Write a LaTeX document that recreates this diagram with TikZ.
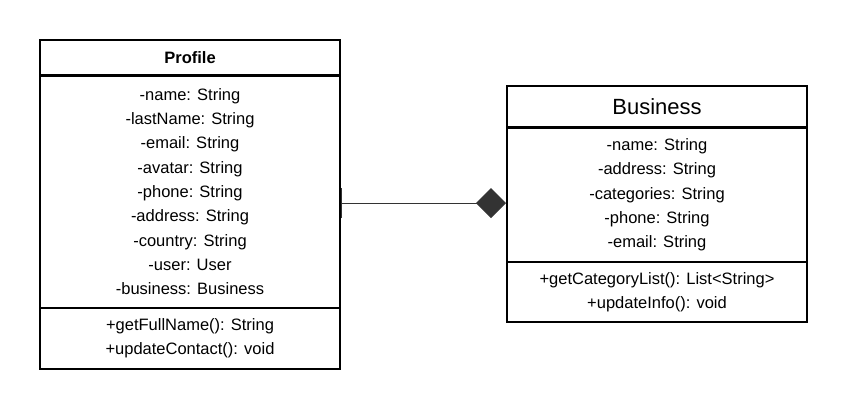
\documentclass[tikz,border=0pt]{standalone}
\usepackage{fontspec}
\setmainfont{Liberation Sans}
\usetikzlibrary{arrows.meta}
\definecolor{lnk}{HTML}{333333}
\newcommand{\attfont}{\fontsize{16.5}{24.3}\selectfont}

\begin{document}
\begin{tikzpicture}[x=1pt, y=-1pt,
    part/.style={draw=black, line width=2pt, minimum width=300pt, inner sep=0pt, align=center, font=\attfont},
    assoc/.style={draw=lnk, line width=1pt, {Bar[width=30pt, line width=1.5pt, sep=0pt]}-{Diamond[length=30pt, width=30pt, fill=lnk, sep=0pt]}}]
    \useasboundingbox (0,0) rectangle (847,408);

    \node[part, minimum height=35pt, font=\fontsize{16.5}{18}\selectfont\bfseries] (ph) at (190, 57.5) {Profile};
    \node[part, minimum height=232pt] (pa) at (190, 191.5) {-name: String\\-lastName: String\\-email: String\\-avatar: String\\-phone: String\\-address: String\\-country: String\\-user: User\\-business: Business};
    \node[part, minimum height=61pt] (pm) at (190, 338) {+getFullName(): String\\+updateContact(): void};

    \node[part, minimum height=41pt, font=\fontsize{22}{24}\selectfont] (bh) at (657, 106.5) {Business};
    \node[part, minimum height=134pt] (ba) at (657, 195) {-name: String\\-address: String\\-categories: String\\-phone: String\\-email: String};
    \node[part, minimum height=60pt] (bm) at (657, 292) {+getCategoryList(): List<String>\\+updateInfo(): void};

    \coordinate (j) at (506, 203);
    \draw[assoc] ([xshift=-0.3pt]pa.east |- j) -- (j);
\end{tikzpicture}
\end{document}
